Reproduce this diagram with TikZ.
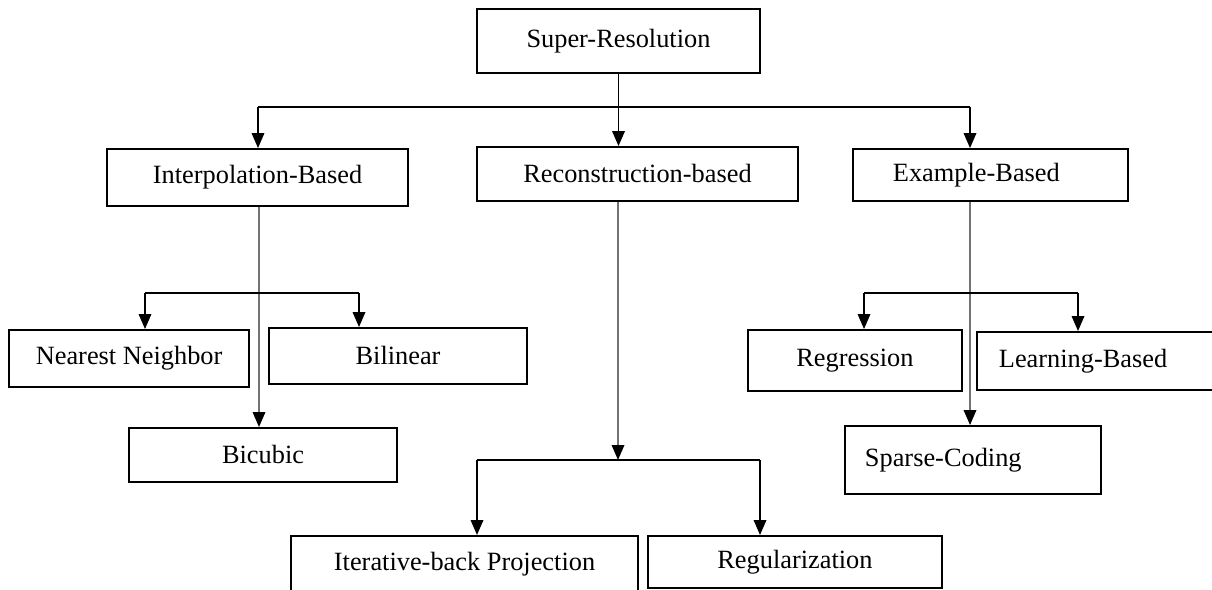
\documentclass[tikz,border=0pt]{standalone}
\usepackage{fontspec}
\setmainfont{Liberation Serif}
\usepackage{tikz}
\usetikzlibrary{arrows.meta}

\begin{document}
\begin{tikzpicture}[x=0.02cm,y=-0.02cm,->,>={Triangle[width=0.25cm,length=0.3cm]},line width=1pt,
main node/.style={rectangle,draw,inner sep=0pt,align=center,font=\fontsize{15}{18}\selectfont},
grey line/.style={draw=black!55,-{Triangle[width=0.25cm,length=0.3cm,color=black]}}]

\useasboundingbox (0,0) rectangle (1212,590);
\clip (0,0) rectangle (1212,590);

\node[main node,minimum width=5.66cm,minimum height=1.28cm] (1) at (618.5,41) {Super-Resolution};

\node[main node,minimum width=6.02cm,minimum height=1.14cm] (2) [below of=1,node distance=2.73cm,xshift=-7.22cm] {Interpolation-Based};
\node[main node,minimum width=6.42cm,minimum height=1.08cm] (3) [below of=1,node distance=2.66cm,xshift=0.38cm] {Reconstruction-based};
\node[main node,minimum height=1.04cm,text width=3.9cm,align=left,inner xsep=0.8cm] (4) [below of=1,node distance=2.68cm,xshift=7.44cm] {Example-Based};

\node[main node,minimum width=4.8cm,minimum height=1.14cm] (5) [below of=2,node distance=3.62cm,xshift=-2.57cm] {Nearest Neighbor};
\node[main node,minimum width=5.16cm,minimum height=1.12cm] (6) [below of=2,node distance=3.57cm,xshift=2.81cm] {Bilinear};
\node[main node,minimum width=5.36cm,minimum height=1.08cm] (7) [below of=2,node distance=5.55cm,xshift=0.11cm] {Bicubic};

\node[main node,minimum width=6.94cm,minimum height=1.12cm] (8) [below of=3,node distance=7.8cm,xshift=-3.46cm] {Iterative-back Projection};
\node[main node,minimum width=5.88cm,minimum height=1.04cm] (9) [below of=3,node distance=7.76cm,xshift=3.15cm] {Regularization};

\node[main node,minimum width=4.28cm,minimum height=1.22cm] (10) [below of=4,node distance=3.71cm,xshift=-2.71cm] {Regression};
\node[main node,minimum height=1.16cm,text width=4.28cm,align=left,inner xsep=0.44cm] (11) [below of=4,node distance=3.72cm,xshift=2.31cm] {Learning-Based};
\node[main node,minimum height=1.36cm,text width=4.32cm,align=left,inner xsep=0.4cm] (12) [below of=4,node distance=5.7cm,xshift=-0.35cm] {Sparse-Coding};

%junctions
\coordinate (t2) at (258,107);
\coordinate (t4) at (970,107);
\coordinate (b5) at (145,293);
\coordinate (b6) at (359,293);
\coordinate (m2) at (259,293);
\coordinate (r3) at (618,460);
\coordinate (r8) at (477,460);
\coordinate (r9) at (760,460);
\coordinate (e10) at (864,293);
\coordinate (e11) at (1078,293);

%top level
\draw[-] (1.south) -- (1.south |- t2);
\draw[-] (t2) -- (t4);
\draw (t2) -- (t2 |- 2.north);
\draw (1.south) -- (1.south |- 3.north);
\draw (t4) -- (t4 |- 4.north);

%interpolation
\draw[grey line] (m2 |- 2.south) -- (m2 |- 7.north);
\draw[-] (b5) -- (b6);
\draw (b5) -- (b5 |- 5.north);
\draw (b6) -- (b6 |- 6.north);

%reconstruction
\draw[grey line] (r3 |- 3.south) -- (r3);
\draw[-] (r8) -- (r9);
\draw (r8) -- (r8 |- 8.north);
\draw (r9) -- (r9 |- 9.north);

%example
\draw[grey line] (t4 |- 4.south) -- (t4 |- 12.north);
\draw[-] (e10) -- (e11);
\draw (e10) -- (e10 |- 10.north);
\draw (e11) -- (e11 |- 11.north);

\end{tikzpicture}
\end{document}
